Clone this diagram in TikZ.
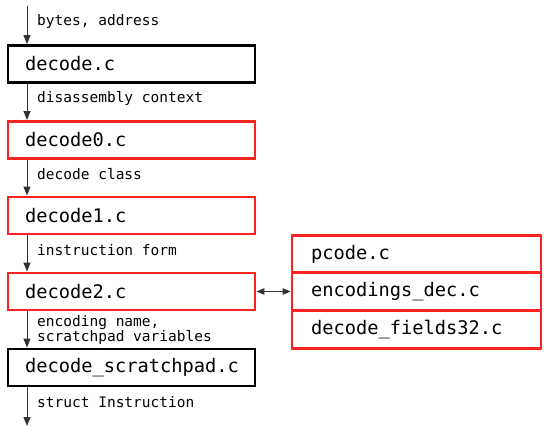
\documentclass[tikz,border=0pt]{standalone}
\usepackage{fontspec}
\setmonofont{DejaVu Sans Mono}
\usetikzlibrary{arrows.meta}
\definecolor{boxred}{RGB}{255,34,34}
\begin{document}
\begin{tikzpicture}[x=1pt,y=-1pt,
  filebox/.style={draw=black,line width=2.9pt,rectangle,minimum height=37pt,
    text width=#1,align=left,inner xsep=17pt,inner ysep=0pt,
    font=\fontsize{18.7}{20}\selectfont\ttfamily},
  filebox/.default=213pt,
  redbox/.style={filebox=#1,draw=boxred},
  redbox/.default=213pt,
  sidebox/.style={draw=boxred,line width=2.9pt,rectangle,minimum height=37.7pt,
    text width=211pt,align=left,inner xsep=19pt,inner ysep=0pt,
    font=\fontsize{18.7}{20}\selectfont\ttfamily},
  flow/.style={draw=black!80,line width=1pt,-{Triangle[length=9pt,width=7pt]}},
  lbl/.style={anchor=west,inner sep=0pt,font=\fontsize{14.5}{15}\selectfont\ttfamily,align=left}
]
\useasboundingbox (0,0) rectangle (551,435);
\node[filebox] (d) at (131.5,64) {decode.c};
\node[redbox] (d0) at (131.5,140) {decode0.c};
\node[redbox] (d1) at (131.5,215.5) {decode1.c};
\node[redbox] (d2) at (131.5,291.5) {decode2.c};
\node[filebox] (ds) at (131.5,367.5) {decode\_scratchpad.c};

\node[sidebox] (pc) at (416.5,254) {pcode.c};
\node[sidebox] (enc) at (416.5,291.5) {encodings\_dec.c};
\node[sidebox] (df) at (416.5,329.5) {decode\_fields32.c};

\coordinate (top) at (27,6);
\coordinate (bot) at (27,426);

\draw[flow] (top) -- (d.north -| top);
\draw[flow] (d.south -| top) -- (d0.north -| top);
\draw[flow] (d0.south -| top) -- (d1.north -| top);
\draw[flow] (d1.south -| top) -- (d2.north -| top);
\draw[flow] (d2.south -| top) -- (ds.north -| top);
\draw[flow] (ds.south -| top) -- (bot);
\draw[draw=black!80,line width=1pt,{Triangle[length=8pt,width=6.5pt]}-{Triangle[length=8pt,width=6.5pt]}] (d2.east) -- (enc.west);

\node[lbl] (l1) at (37,22) {bytes, address};
\node[lbl] (l2) at (37,98) {disassembly context};
\node[lbl] (l3) at (37,174) {decode class};
\node[lbl] (l4) at (37,250) {instruction form};
\node[lbl] (l5) at (37,329.5) {encoding name,\\scratchpad variables};
\node[lbl] (l6) at (37,402) {struct Instruction};
\end{tikzpicture}
\end{document}
